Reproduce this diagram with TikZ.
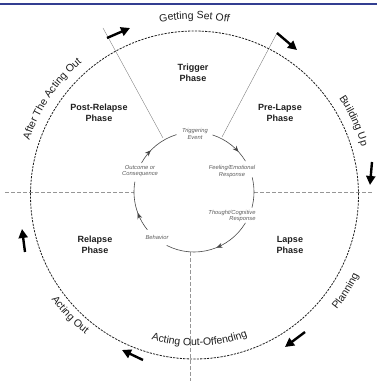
\documentclass[tikz,border=0pt]{standalone}
\usepackage{fontspec}
\setmainfont{Liberation Sans}
\usetikzlibrary{decorations.text,decorations.markings,arrows.meta,calc}
\definecolor{barblue}{RGB}{50,62,145}
\definecolor{ink}{RGB}{30,30,30}
\definecolor{arcgray}{RGB}{70,70,70}
\definecolor{radgray}{RGB}{115,115,115}
\definecolor{txtgray}{RGB}{90,90,90}
\definecolor{guide}{RGB}{150,150,150}
\newcommand\outerfont{\fontsize{10.5}{12}\selectfont}
\tikzset{
  outercirc/.style={draw=ink,line width=0.8pt,dash pattern=on 2.2pt off 1.2pt},
  guideline/.style={draw=guide,line width=0.5pt,dash pattern=on 4pt off 2pt},
  radial/.style={draw=radgray,line width=0.35pt},
  innerarc/.style={draw=arcgray,line width=0.6pt},
  bigarrow/.style={draw=black,line width=2.4pt,-{Triangle[length=9pt,width=9pt]}},
  phase/.style={font=\bfseries\fontsize{9}{11}\selectfont,text=ink,align=center,inner sep=0pt},
  step label/.style={font=\itshape\fontsize{5.8}{6.6}\selectfont,text=txtgray,align=center,inner sep=0pt},
  ringtext/.style={decorate,decoration={text along path,text align=center,text color=ink}},
  midarrow/.style={postaction={decorate},decoration={markings,mark=at position #1 with {\arrow{Stealth[length=6pt,width=5pt]}}}}
}
\begin{document}
\begin{tikzpicture}[x=1pt,y=1pt]
\useasboundingbox (0,0) rectangle (377,381);
% top bar
\draw[barblue,line width=2.2pt] (0,377.3) -- (377,377.3);
\coordinate (C) at (194.5,186);
\coordinate (I) at (194,189);
% guide lines
\coordinate (hl1) at (5,189); \coordinate (hl2) at (134,189);
\coordinate (hr1) at (254,189); \coordinate (hr2) at (372,189);
\coordinate (v1) at (190,129); \coordinate (v2) at (190,0);
\draw[guideline] (hl1) -- (hl2);
\draw[guideline] (hr1) -- (hr2);
\draw[guideline] (v1) -- (v2);
% radial lines
\coordinate (ra1) at (103,353); \coordinate (ra2) at (163,243);
\coordinate (rb1) at (277,348); \coordinate (rb2) at (222,244);
\draw[radial] (ra1) -- (ra2);
\draw[radial] (rb1) -- (rb2);
% outer circle
\draw[outercirc] (C) circle[radius=164pt];
% inner arcs
\draw[innerarc,midarrow=0.73] ($(I)+(72:60pt)$) arc[start angle=72,end angle=31,radius=60pt];
\draw[innerarc] ($(I)+(14:60pt)$) arc[start angle=14,end angle=-15,radius=60pt];
\draw[innerarc,midarrow=0.43] ($(I)+(-31:60pt)$) arc[start angle=-31,end angle=-117,radius=60pt];
\draw[innerarc,midarrow=0.38] ($(I)+(219:60pt)$) arc[start angle=219,end angle=170,radius=60pt];
\draw[innerarc,midarrow=0.34] ($(I)+(151:60pt)$) arc[start angle=151,end angle=107,radius=60pt];
% inner labels
\node[step label] (trig) at (195,247) {Triggering\\Event};
\node[step label] (feel) at (232,209.5) {Feeling/Emotional\\Response};
\node[step label,align=right] (thought) at (232,165) {Thought/Cognitive\\Response};
\node[step label] (beh) at (157,144) {Behavior};
\node[step label] (outc) at (140,210) {Outcome or\\Consequence};
% phase labels
\node[phase] (p1) at (193,308) {Trigger\\Phase};
\node[phase] (p2) at (99,268) {Post-Relapse\\Phase};
\node[phase] (p3) at (280,268) {Pre-Lapse\\Phase};
\node[phase] (p4) at (95,136) {Relapse\\Phase};
\node[phase] (p5) at (290,136) {Lapse\\Phase};
% ring texts
\path[ringtext,decoration={text={|\outerfont|Getting Set Off}}] ($(C)+(130:176pt)$) arc[start angle=130,end angle=50,radius=176pt];
\path[ringtext,decoration={text={|\outerfont|Building Up}}] ($(C)+(60:174pt)$) arc[start angle=60,end angle=-10,radius=174pt];
\path[ringtext,decoration={text={|\outerfont|After The Acting Out}}] ($(C)+(186:174pt)$) arc[start angle=186,end angle=106,radius=174pt];
\path[ringtext,decoration={text={|\outerfont|Planning}}] ($(C)+(-67:183pt)$) arc[start angle=-67,end angle=2,radius=183pt];
\path[ringtext,decoration={text={|\outerfont|Acting Out}}] ($(C)+(189:177pt)$) arc[start angle=189,end angle=259,radius=177pt];
\path[ringtext,decoration={text={|\outerfont|Acting Out-Offending}}] ($(C)+(-138:151pt)$) arc[start angle=-138,end angle=-38,radius=151pt];
% big arrows
\coordinate (a1s) at (107,343); \coordinate (a1e) at (130,353);
\coordinate (a2s) at (277,348); \coordinate (a2e) at (297,331);
\coordinate (a3s) at (372,219); \coordinate (a3e) at (370,196);
\coordinate (a4s) at (305,49); \coordinate (a4e) at (285,34);
\coordinate (a5s) at (143,21); \coordinate (a5e) at (122,31);
\coordinate (a6s) at (25,129); \coordinate (a6e) at (22,152);
\draw[bigarrow] (a1s) -- (a1e);
\draw[bigarrow] (a2s) -- (a2e);
\draw[bigarrow] (a3s) -- (a3e);
\draw[bigarrow] (a4s) -- (a4e);
\draw[bigarrow] (a5s) -- (a5e);
\draw[bigarrow] (a6s) -- (a6e);
\end{tikzpicture}
\end{document}
